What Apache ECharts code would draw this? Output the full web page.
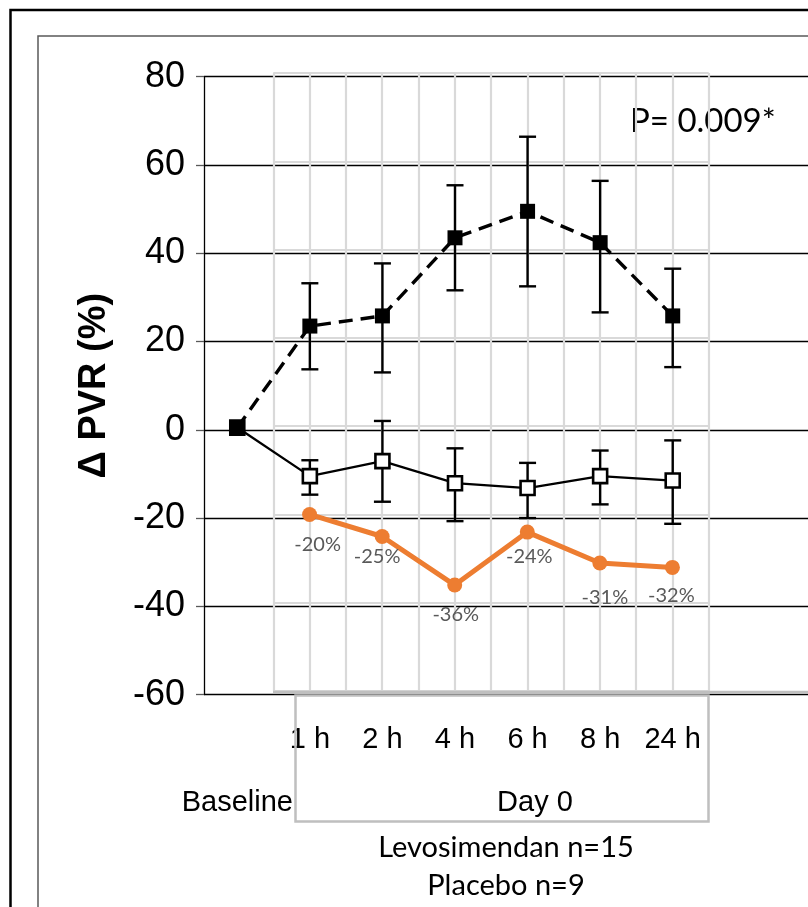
<!DOCTYPE html>
<html><head><meta charset="utf-8">
<script src="https://cdn.jsdelivr.net/npm/echarts@6.0.0/dist/echarts.min.js"></script>
<style>html,body{margin:0;padding:0;background:#fff}#c{width:808px;height:907px}</style>
</head><body><div id="c"></div>
<script>
// ---- data ----
const categories = ['Baseline', '1 h', '2 h', '4 h', '6 h', '8 h', '24 h'];
const yTicks = [-60, -40, -20, 0, 20, 40, 60, 80];
const placeboMean  = [0.5, 23.5, 25.8, 43.5, 49.5, 42.4, 25.8];
const placeboUpper = [null, 33.2, 37.7, 55.4, 66.4, 56.4, 36.5];
const placeboLower = [null, 13.7, 13.0, 31.6, 32.5, 26.6, 14.2];
const levoMean  = [0.5, -10.5, -7.1, -12.1, -13.2, -10.5, -11.5];
const levoUpper = [null, -6.9, 2.0, -4.2, -7.5, -4.7, -2.4];
const levoLower = [null, -14.7, -16.3, -20.7, -20.0, -16.9, -21.3];
const diffCats = ['1 h', '2 h', '4 h', '6 h', '8 h', '24 h'];
const diffPct = [-20, -25, -36, -24, -31, -32];
const pText = 'P= 0.009*';

// ---- layout (not data) ----
const labelNudge = [[8, 9], [-5, -1], [1, 8], [2, 3], [5, 13], [-1, 7]];
const BLACK = '#000';
const ORANGE = '#ED7D31';
const LIGHT = '#D9D9D9';

const chart = echarts.init(document.getElementById('c'), null, {renderer: 'canvas'});

function errorSeries(name, lower, upper) {
  const data = [];
  categories.forEach((c, i) => { if (lower[i] != null) data.push([i, lower[i], upper[i]]); });
  return {
    type: 'custom', name, xAxisIndex: 2, yAxisIndex: 2, z: 3, silent: true,
    data,
    encode: {x: 0, y: [1, 2]},
    renderItem(params, api) {
      const lo = api.coord([api.value(0), api.value(1)]);
      const hi = api.coord([api.value(0), api.value(2)]);
      const cap = 8.5;
      const st = {stroke: BLACK, lineWidth: 2.4};
      return {type: 'group', children: [
        {type: 'line', shape: {x1: lo[0], y1: lo[1], x2: hi[0], y2: hi[1]}, style: st},
        {type: 'line', shape: {x1: lo[0] - cap, y1: lo[1], x2: lo[0] + cap, y2: lo[1]}, style: st},
        {type: 'line', shape: {x1: hi[0] - cap, y1: hi[1], x2: hi[0] + cap, y2: hi[1]}, style: st}
      ]};
    }
  };
}

const option = {
  animation: false,
  backgroundColor: '#fff',
  grid: [
    {left: 204, right: -6, top: 76.7, bottom: 212.4},
    {left: 273.3, width: 435.4, top: 73, bottom: 216},
    {left: 201, width: 508, top: 76.7, bottom: 212.4}
  ],
  xAxis: [
    {gridIndex: 0, type: 'value', min: 0, max: 1, show: false},
    {gridIndex: 1, type: 'value', min: 0.5, max: 6.5, interval: 0.5,
      axisLine: {show: false}, axisTick: {show: false}, axisLabel: {show: false},
      splitLine: {show: true, lineStyle: {color: LIGHT, width: 2.2}}},
    {gridIndex: 2, type: 'category', data: categories, boundaryGap: true,
      axisLine: {show: false}, axisTick: {show: false}, splitLine: {show: false},
      axisLabel: {interval: 0, formatter: (v, i) => (i === 0 ? '\n\n' + v : v),
        fontFamily: 'Liberation Sans, Arial', fontSize: 29, color: BLACK,
        lineHeight: 31.5, margin: 29.6}}
  ],
  yAxis: [
    {gridIndex: 0, type: 'value', min: yTicks[0], max: yTicks[yTicks.length - 1], interval: 20,
      axisLine: {show: true, lineStyle: {color: BLACK, width: 1.3}},
      axisTick: {show: true, length: 8, lineStyle: {color: '#595959', width: 1.3}},
      axisLabel: {fontFamily: 'Liberation Sans, Arial', fontSize: 36, color: BLACK, margin: 19},
      splitLine: {show: true, lineStyle: {color: BLACK, width: 1.3}},
      name: 'Δ PVR (%)', nameLocation: 'middle', nameGap: 90, nameRotate: 90,
      nameTextStyle: {fontFamily: 'Liberation Sans, Arial', fontWeight: 'bold', fontSize: 38, color: BLACK}},
    {gridIndex: 1, type: 'value', min: -60, max: 80, interval: 20,
      axisLine: {show: false}, axisTick: {show: false}, axisLabel: {show: false},
      splitLine: {show: true, lineStyle: {color: LIGHT, width: 2.2}}},
    {gridIndex: 2, type: 'value', min: -60, max: 80, show: false}
  ],
  series: [
    errorSeries('placeboErr', placeboLower, placeboUpper),
    errorSeries('levoErr', levoLower, levoUpper),
    {
      type: 'line', name: 'Levosimendan', xAxisIndex: 2, yAxisIndex: 2, z: 4,
      data: levoMean,
      lineStyle: {color: BLACK, width: 2.3},
      symbol: 'rect', symbolSize: 14,
      itemStyle: {color: '#fff', borderColor: BLACK, borderWidth: 2.6}
    },
    {
      type: 'line', name: 'Placebo', xAxisIndex: 2, yAxisIndex: 2, z: 5,
      data: placeboMean,
      lineStyle: {color: BLACK, width: 3.4, type: [14, 8]},
      symbol: 'rect', symbolSize: 15,
      itemStyle: {color: BLACK, borderWidth: 0}
    },
    {
      type: 'line', name: 'Difference', xAxisIndex: 1, yAxisIndex: 1, z: 6,
      data: diffPct.map((v, i) => ({
        value: [categories.indexOf(diffCats[i]), v],
        label: {offset: labelNudge[i]}
      })),
      lineStyle: {color: ORANGE, width: 5},
      symbol: 'circle', symbolSize: 15,
      itemStyle: {color: ORANGE},
      label: {show: true, position: 'bottom', distance: 4,
        formatter: p => p.value[1] + '%',
        color: '#595959', fontSize: 20, fontFamily: 'Lato, Noto Sans'}
    }
  ],
  graphic: [
    {type: 'rect', silent: true, z: 0, shape: {x: 10.5, y: 10, width: 900, height: 950},
      style: {fill: 'none', stroke: BLACK, lineWidth: 2.5}},
    {type: 'rect', silent: true, z: 0, shape: {x: 38, y: 36, width: 900, height: 950},
      style: {fill: 'none', stroke: '#595959', lineWidth: 1.5}},
    {type: 'line', silent: true, z: 1, shape: {x1: 273, y1: 692, x2: 810, y2: 692},
      style: {stroke: '#BFBFBF', lineWidth: 2.5}},
    {type: 'rect', silent: true, z: 1, shape: {x: 295.5, y: 695.5, width: 413, height: 126},
      style: {fill: 'none', stroke: '#BFBFBF', lineWidth: 2.5}},
    {type: 'text', silent: true, x: 630, y: 121,
      style: {text: pText, fontFamily: 'Lato, Noto Sans', fontSize: 33, fill: BLACK,
        align: 'left', verticalAlign: 'middle'}},
    {type: 'text', silent: true, x: 535, y: 803,
      style: {text: 'Day 0', fontFamily: 'Liberation Sans, Arial', fontSize: 29, fill: BLACK,
        align: 'center', verticalAlign: 'middle'}},
    {type: 'text', silent: true, x: 506, y: 848,
      style: {text: 'Levosimendan n=15', fontFamily: 'Lato, Noto Sans', fontSize: 29, fill: BLACK,
        align: 'center', verticalAlign: 'middle'}},
    {type: 'text', silent: true, x: 506, y: 886,
      style: {text: 'Placebo n=9', fontFamily: 'Lato, Noto Sans', fontSize: 29, fill: BLACK,
        align: 'center', verticalAlign: 'middle'}}
  ]
};
chart.setOption(option);
</script>
</body></html>
